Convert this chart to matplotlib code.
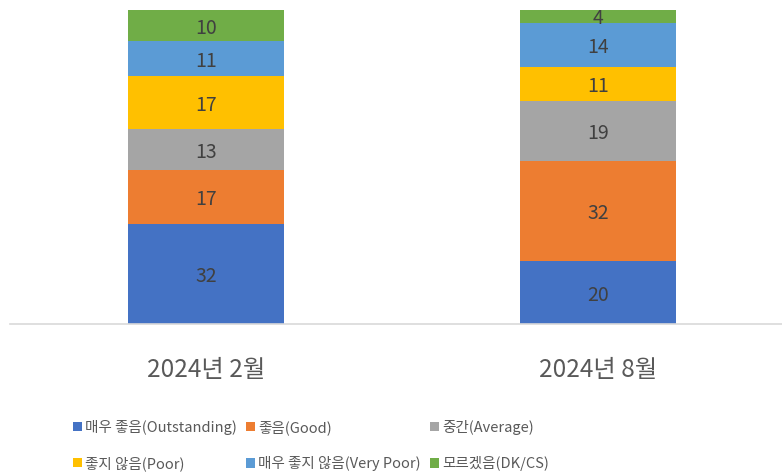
import numpy as np
import matplotlib.pyplot as plt

plt.rcParams['font.family'] = ['Noto Sans CJK KR', 'DejaVu Sans']

categories = ['2024년 2월', '2024년 8월']
series_names = ['매우 좋음(Outstanding)', '좋음(Good)', '중간(Average)',
                '좋지 않음(Poor)', '매우 좋지 않음(Very Poor)', '모르겠음(DK/CS)']
outstanding = [32, 20]
good = [17, 32]
average = [13, 19]
poor = [17, 11]
very_poor = [11, 14]
dk_cs = [10, 4]
colors = ['#4472C4', '#ED7D31', '#A5A5A5', '#FFC000', '#5B9BD5', '#70AD47']

values = [outstanding, good, average, poor, very_poor, dk_cs]

fig = plt.figure(figsize=(7.82, 4.76), dpi=100)
# axes runs a bit past the right edge, like the cropped original
ax = fig.add_axes([10 / 782, 152 / 476, 784 / 782, 314 / 476])

x = np.arange(len(categories))
bottom = np.zeros(len(categories))
handles = []
for name, vals, c in zip(series_names, values, colors):
    bars = ax.bar(x, vals, 0.4, bottom=bottom, color=c, label=name)
    txts = ax.bar_label(bars, labels=[str(v) for v in vals], label_type='center',
                        fontsize=14, color='#404040')
    for t in txts:
        t.set_verticalalignment('center_baseline')
    bottom += np.array(vals)
    handles.append(bars)

ax.set_xlim(-0.5, 1.5)
ax.set_ylim(0, 100)
ax.set_xticks(x)
ax.set_xticklabels(categories, fontsize=17.5, color='#595959')
ax.tick_params(axis='x', length=0, pad=24)
ax.set_yticks([])
for s in ['top', 'left', 'right']:
    ax.spines[s].set_visible(False)
ax.spines['bottom'].set_color('#D9D9D9')
ax.spines['bottom'].set_linewidth(1.2)

# legend filled row by row
order = [0, 3, 1, 4, 2, 5]
leg = fig.legend([handles[i] for i in order], [series_names[i] for i in order],
                 ncol=3, loc='upper left', bbox_to_anchor=(73 / 782, 1 - 420 / 476),
                 frameon=False, fontsize=10.5, handlelength=0.6, handleheight=0.6,
                 handletextpad=0.25, columnspacing=0.6, labelspacing=1.45,
                 labelcolor='#595959', borderaxespad=0, borderpad=0)

fig.savefig('out.png', dpi=100)
